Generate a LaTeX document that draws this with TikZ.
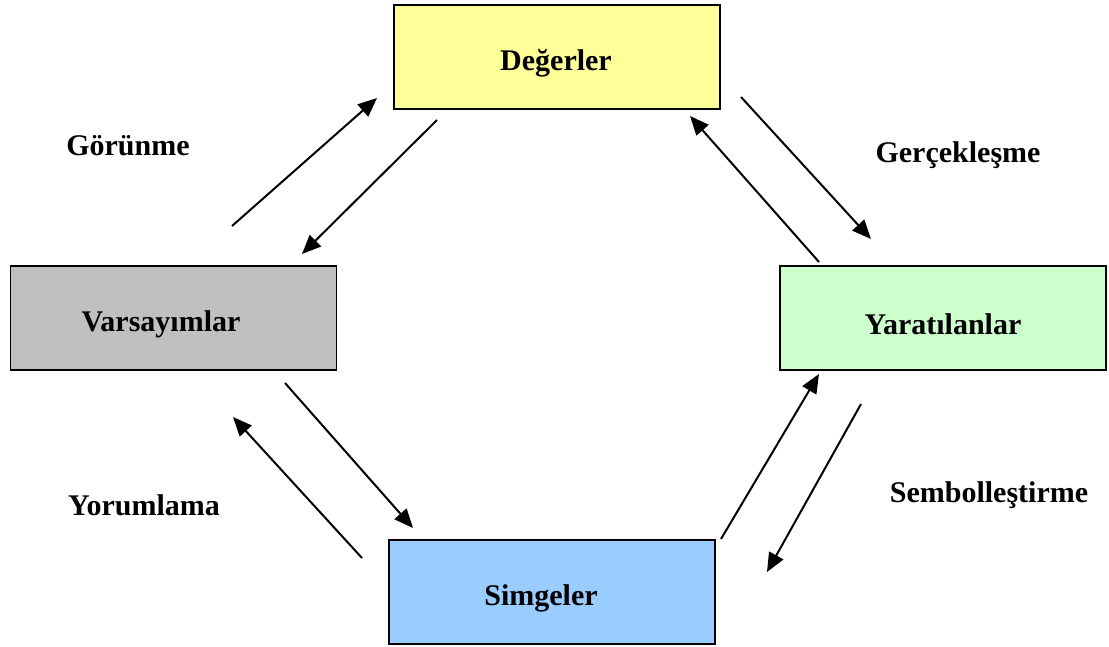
\documentclass[tikz,border=0pt]{standalone}
\usepackage{fontspec}
\setmainfont{Liberation Serif}
\usetikzlibrary{arrows.meta}
\definecolor{cyellow}{HTML}{FFFF99}
\definecolor{cgray}{HTML}{C0C0C0}
\definecolor{cgreen}{HTML}{CCFFCC}
\definecolor{cblue}{HTML}{99CCFF}
\tikzset{
  box/.style={draw=black, line width=1.8pt, minimum width=326pt, minimum height=104pt,
    inner sep=0pt},
  lbl/.style={font=\fontsize{30}{36}\selectfont\bfseries, inner sep=0pt},
  flow/.style={line width=2pt, -{Triangle[length=19pt,width=16pt]}}
}
\begin{document}
\begin{tikzpicture}[x=1pt,y=-1pt]
\useasboundingbox (0,0) rectangle (1109,646);
% the four boxes
\node[box, fill=cyellow] (deg) at (557,57) {};
\node[box, fill=cgray] (var) at (173.5,318) {};
\node[box, fill=cgreen] (yar) at (943,318) {};
\node[box, fill=cblue] (sim) at (552,592) {};
\node[lbl] (tdeg) at (556,63) {Değerler};
\node[lbl] (tvar) at (161,324) {Varsayımlar};
\node[lbl] (tyar) at (943,324) {Yaratılanlar};
\node[lbl] (tsim) at (541,598) {Simgeler};
% labels
\node[lbl] (l1) at (128,146) {Görünme};
\node[lbl] (l2) at (958,155) {Gerçekleşme};
\node[lbl] (l3) at (144,505) {Yorumlama};
\node[lbl] (l4) at (989,495) {Sembolleştirme};
% arrow endpoints
\coordinate (a1s) at (232,226); \coordinate (a1e) at (377,98);
\coordinate (a2s) at (437,120); \coordinate (a2e) at (302,254);
\coordinate (a3s) at (819,262); \coordinate (a3e) at (690,116);
\coordinate (a4s) at (741,97);  \coordinate (a4e) at (871,239);
\coordinate (a5s) at (285,383); \coordinate (a5e) at (413,528);
\coordinate (a6s) at (362,558); \coordinate (a6e) at (233,417);
\coordinate (a7s) at (721,539); \coordinate (a7e) at (819,374);
\coordinate (a8s) at (861,404); \coordinate (a8e) at (767,572);
\draw[flow] (a1s) -- (a1e);
\draw[flow] (a2s) -- (a2e);
\draw[flow] (a3s) -- (a3e);
\draw[flow] (a4s) -- (a4e);
\draw[flow] (a5s) -- (a5e);
\draw[flow] (a6s) -- (a6e);
\draw[flow] (a7s) -- (a7e);
\draw[flow] (a8s) -- (a8e);
\end{tikzpicture}
\end{document}
